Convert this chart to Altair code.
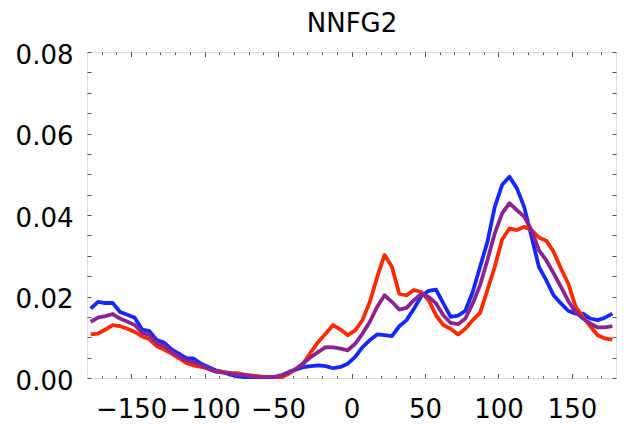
import altair as alt
import pandas as pd

# ---- data ----
angles = [-177.5, -172.5, -167.5, -162.5, -157.5, -152.5, -147.5, -142.5, -137.5, -132.5,
          -127.5, -122.5, -117.5, -112.5, -107.5, -102.5, -97.5, -92.5, -87.5, -82.5,
          -77.5, -72.5, -67.5, -62.5, -57.5, -52.5, -47.5, -42.5, -37.5, -32.5,
          -27.5, -22.5, -17.5, -12.5, -7.5, -2.5, 2.5, 7.5, 12.5, 17.5,
          22.5, 27.5, 32.5, 37.5, 42.5, 47.5, 52.5, 57.5, 62.5, 67.5,
          72.5, 77.5, 82.5, 87.5, 92.5, 97.5, 102.5, 107.5, 112.5, 117.5,
          122.5, 127.5, 132.5, 137.5, 142.5, 147.5, 152.5, 157.5, 162.5, 167.5,
          172.5, 177.5]

blue = [0.0170, 0.0187, 0.0184, 0.0184, 0.0162, 0.0155, 0.0148, 0.0119, 0.0115, 0.0093,
        0.0087, 0.0070, 0.0060, 0.0049, 0.0048, 0.0035, 0.0027, 0.0019, 0.0015, 0.0008,
        0.0004, 0.0002, 0.0002, 0.0002, 0.0002, 0.0002, 0.0006, 0.0015, 0.0021, 0.0027,
        0.0029, 0.0031, 0.0029, 0.0024, 0.0027, 0.0035, 0.0052, 0.0076, 0.0093, 0.0107,
        0.0105, 0.0103, 0.0127, 0.0142, 0.0170, 0.0201, 0.0214, 0.0217, 0.0183, 0.0150,
        0.0153, 0.0165, 0.0211, 0.0273, 0.0334, 0.0420, 0.0474, 0.0494, 0.0466, 0.0420,
        0.0347, 0.0273, 0.0240, 0.0203, 0.0183, 0.0165, 0.0158, 0.0158, 0.0146, 0.0142,
        0.0148, 0.0158]

red = [0.0107, 0.0109, 0.0119, 0.0130, 0.0127, 0.0121, 0.0113, 0.0102, 0.0095, 0.0078,
       0.0070, 0.0060, 0.0049, 0.0037, 0.0031, 0.0027, 0.0023, 0.0016, 0.0015, 0.0012,
       0.0012, 0.0008, 0.0006, 0.0004, 0.0002, 0.0002, 0.0002, 0.0011, 0.0023, 0.0037,
       0.0064, 0.0089, 0.0109, 0.0130, 0.0119, 0.0105, 0.0117, 0.0142, 0.0187, 0.0248,
       0.0302, 0.0273, 0.0207, 0.0203, 0.0216, 0.0211, 0.0191, 0.0154, 0.0130, 0.0121,
       0.0107, 0.0121, 0.0142, 0.0160, 0.0216, 0.0273, 0.0340, 0.0367, 0.0363, 0.0371,
       0.0363, 0.0345, 0.0337, 0.0310, 0.0269, 0.0232, 0.0175, 0.0150, 0.0127, 0.0105,
       0.0097, 0.0094]

purple = [0.0138, 0.0148, 0.0152, 0.0157, 0.0146, 0.0138, 0.0130, 0.0111, 0.0105, 0.0086,
          0.0079, 0.0064, 0.0053, 0.0043, 0.0039, 0.0031, 0.0023, 0.0016, 0.0013, 0.0011,
          0.0008, 0.0007, 0.0004, 0.0002, 0.0002, 0.0002, 0.0007, 0.0013, 0.0023, 0.0037,
          0.0052, 0.0064, 0.0076, 0.0075, 0.0072, 0.0068, 0.0084, 0.0109, 0.0138, 0.0175,
          0.0203, 0.0187, 0.0168, 0.0172, 0.0191, 0.0206, 0.0199, 0.0183, 0.0154, 0.0135,
          0.0132, 0.0146, 0.0183, 0.0228, 0.0289, 0.0355, 0.0404, 0.0429, 0.0412, 0.0396,
          0.0363, 0.0314, 0.0289, 0.0257, 0.0224, 0.0189, 0.0162, 0.0146, 0.0134, 0.0124,
          0.0124, 0.0127]

x_minor_ticks = [-170, -160, -150, -140, -130, -120, -110, -100, -90, -80, -70, -60, -50,
                 -40, -30, -20, -10, 0, 10, 20, 30, 40, 50, 60, 70, 80, 90, 100, 110, 120,
                 130, 140, 150, 160, 170]
x_major_ticks = [-150, -100, -50, 0, 50, 100, 150]
y_ticks = [0.0, 0.005, 0.01, 0.015, 0.02, 0.025, 0.03, 0.035, 0.04, 0.045, 0.05, 0.055,
           0.06, 0.065, 0.07, 0.075, 0.08]

title_text = "NNFG2"

df = pd.DataFrame({"angle": angles, "blue": blue, "red": red, "purple": purple})

FONT = "DejaVu Sans"
TICK = "#555555"
W, H = 529, 326
xscale = alt.Scale(domain=[-180, 180], nice=False, zero=False)
yscale = alt.Scale(domain=[0, 0.08], nice=False)

common = dict(domain=False, grid=False, tickColor=TICK, tickWidth=1,
              labelOverlap=False, labelFlush=False, labelBound=False)

x_bottom_minor = alt.Axis(orient="bottom", values=x_minor_ticks, tickSize=alt.ExprRef(expr="-2.5"),
                          labelPadding=21, format="d", labelFont=FONT, labelFontSize=26,
                          labelColor="black", title=None,
                          labelExpr="datum.value % 50 === 0 ? datum.label : ''", **common)
x_bottom_major = alt.Axis(orient="bottom", values=x_major_ticks, tickSize=alt.ExprRef(expr="-4.5"),
                          labels=False, title=None, **common)
# the top axis carries the chart's title text
x_top_minor = alt.Axis(orient="top", values=x_minor_ticks, tickSize=alt.ExprRef(expr="-2.5"),
                       labels=False, title=title_text, titleFont=FONT, titleFontSize=26,
                       titleFontWeight="normal", titleColor="black", titleAlign="center",
                       titleBaseline="alphabetic", titleX=W / 2, titleY=-21, titleAngle=0,
                       **common)
x_top_major = alt.Axis(orient="top", values=x_major_ticks, tickSize=alt.ExprRef(expr="-4.5"),
                       labels=False, title=None, **common)
y_left = alt.Axis(orient="left", values=y_ticks, tickSize=alt.ExprRef(expr="-4"),
                  labelPadding=18, labelFont=FONT, labelFontSize=26, labelColor="black",
                  labelOffset=3, title=None,
                  labelExpr="round(datum.value * 1000) % 20 === 0 ? format(datum.value, '.2f') : ''",
                  **common)
y_right = alt.Axis(orient="right", values=y_ticks, tickSize=alt.ExprRef(expr="-4"),
                   labels=False, title=None, **common)

base = alt.Chart(df)

blue_line = base.mark_line(color="#1428ff", strokeWidth=3.8, strokeJoin="round").encode(
    x=alt.X("angle:Q", scale=xscale, axis=x_bottom_minor),
    y=alt.Y("blue:Q", scale=yscale, axis=y_left),
)
red_line = base.mark_line(color="#ff2a00", strokeWidth=3.8, strokeJoin="round").encode(
    x=alt.X("angle:Q", scale=xscale, axis=x_top_minor),
    y=alt.Y("red:Q", scale=yscale, axis=y_right),
)
purple_line = base.mark_line(color="#8a2494", strokeWidth=3.8, strokeJoin="round").encode(
    x=alt.X("angle:Q", scale=xscale, axis=x_bottom_major),
    y=alt.Y("purple:Q", scale=yscale, axis=None),
)
helper = base.mark_line(opacity=0).encode(
    x=alt.X("angle:Q", scale=xscale, axis=x_top_major),
    y=alt.Y("purple:Q", scale=yscale, axis=None),
)

chart = alt.layer(blue_line, red_line, purple_line, helper).resolve_axis(
    x="independent", y="independent"
).properties(
    width=W,
    height=H,
    autosize=alt.AutoSizeParams(type="none"),
    padding={"left": 87, "top": 52, "right": 10, "bottom": 50},
).configure_view(stroke=TICK, strokeWidth=1.2).configure(background="white")

chart.save("out.html", embed_options={"renderer": "svg", "actions": False})
